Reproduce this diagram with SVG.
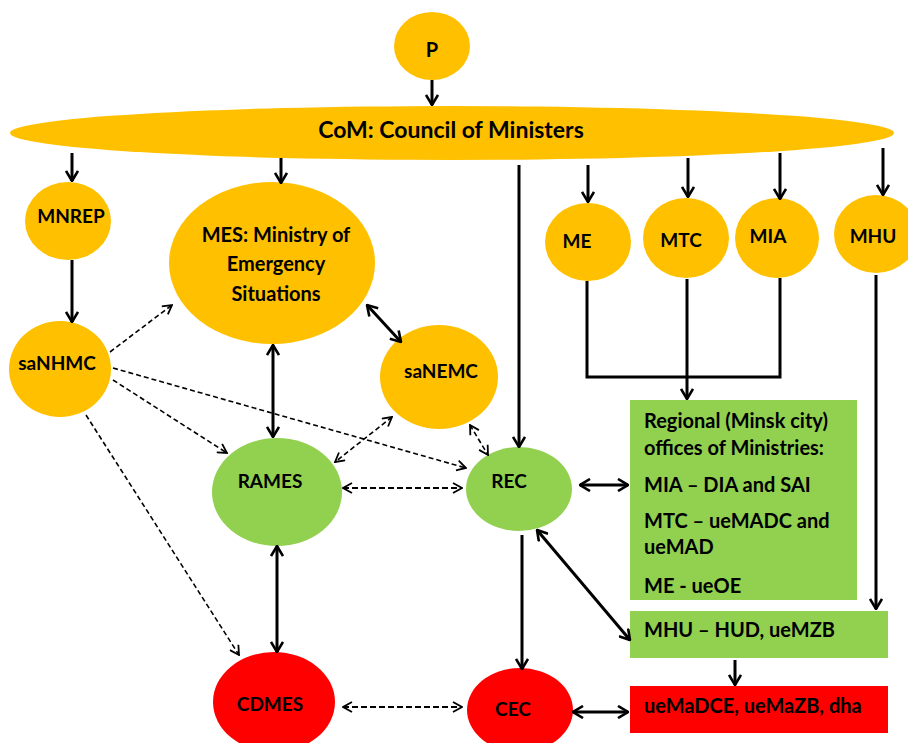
<svg xmlns="http://www.w3.org/2000/svg" width="908" height="743" viewBox="0 0 908 743">
<style>
.or{fill:#FFC000}
.gr{fill:#92D050}
.rd{fill:#FF0000}
text{font-family:Lato,"Liberation Sans",sans-serif;font-weight:bold;font-size:19px;fill:#000}
.c{text-anchor:middle}
.big{font-size:23px}
.m{font-size:20px}
.s{fill:none;stroke:#000;stroke-width:3}
.d{fill:none;stroke:#000;stroke-width:1.6;stroke-dasharray:5 3}
.d2{fill:none;stroke:#000;stroke-width:2;stroke-dasharray:6 3}
</style>
<defs>
<marker id="a" viewBox="0 0 12 14" refX="11" refY="7" markerWidth="12" markerHeight="14" markerUnits="userSpaceOnUse" orient="auto-start-reverse">
<path d="M1,1 L11,7 L1,13" fill="none" stroke="#000" stroke-width="2.6" stroke-dasharray="none"/>
</marker>
<marker id="b" viewBox="0 0 11 12" refX="10" refY="6" markerWidth="11" markerHeight="12" markerUnits="userSpaceOnUse" orient="auto-start-reverse">
<path d="M1,1 L10,6 L1,11" fill="none" stroke="#000" stroke-width="1.8" stroke-dasharray="none"/>
</marker>
</defs>
<rect width="908" height="743" fill="#fff"/>

<g id="nodes">
<g id="P"><ellipse class="or" cx="432" cy="46" rx="38" ry="34"/><text class="c m" x="432" y="57">P</text></g>
<g id="CoM"><ellipse class="or" cx="452" cy="133" rx="442" ry="27"/><text class="c big" x="451" y="138">CoM: Council of Ministers</text></g>
<g id="MNREP"><ellipse class="or" cx="68" cy="221" rx="43" ry="39"/><text class="c" x="71" y="223">MNREP</text></g>
<g id="MES"><ellipse class="or" cx="272" cy="263" rx="103" ry="81"/><text class="c m" x="276" y="242">MES: Ministry of</text><text class="c m" x="276" y="271">Emergency</text><text class="c m" x="276" y="301">Situations</text></g>
<g id="ME"><ellipse class="or" cx="588" cy="242" rx="43" ry="39"/><text class="c" x="577" y="248">ME</text></g>
<g id="MTC"><ellipse class="or" cx="686" cy="238" rx="43" ry="40"/><text class="c" x="681" y="247">MTC</text></g>
<g id="MIA"><ellipse class="or" cx="777" cy="238" rx="42" ry="40"/><text class="c" x="768" y="243">MIA</text></g>
<g id="MHU"><ellipse class="or" cx="876" cy="234" rx="42" ry="39"/><text class="c" x="873" y="243">MHU</text></g>
<g id="saNHMC"><ellipse class="or" cx="60" cy="369" rx="51" ry="48"/><text class="c" x="57" y="370">saNHMC</text></g>
<g id="saNEMC"><ellipse class="or" cx="439" cy="377" rx="59" ry="52"/><text class="c" x="441" y="378">saNEMC</text></g>
<g id="RAMES"><ellipse class="gr" cx="277" cy="492" rx="65" ry="54"/><text class="c" x="270" y="488">RAMES</text></g>
<g id="REC"><ellipse class="gr" cx="519" cy="489" rx="53" ry="42"/><text class="c" x="509" y="488">REC</text></g>
<g id="CDMES"><ellipse class="rd" cx="274" cy="702" rx="61" ry="50"/><text class="c" x="270" y="711">CDMES</text></g>
<g id="CEC"><ellipse class="rd" cx="520" cy="710" rx="53" ry="42"/><text class="c" x="513" y="716">CEC</text></g>
<g id="Regional"><rect class="gr" x="630" y="400" width="227" height="200"/>
<text class="m" x="644" y="428">Regional (Minsk city)</text>
<text class="m" x="644" y="455">offices of Ministries:</text>
<text class="m" x="644" y="492">MIA – DIA and SAI</text>
<text class="m" x="644" y="528">MTC – ueMADC and</text>
<text class="m" x="644" y="554">ueMAD</text>
<text class="m" x="644" y="593">ME - ueOE</text></g>
<g id="MHUbox"><rect class="gr" x="630" y="611" width="258" height="47"/><text class="m" x="644" y="637">MHU – HUD, ueMZB</text></g>
<g id="RedBox"><rect class="rd" x="630" y="686" width="258" height="47"/><text class="m" x="644" y="713">ueMaDCE, ueMaZB, dha</text></g>
</g>

<g id="connectors">
<path class="s" d="M432,80 V105" marker-end="url(#a)"/>
<path class="s" d="M72,153 V181" marker-end="url(#a)"/>
<path class="s" d="M281,158 V183" marker-end="url(#a)"/>
<path class="s" d="M519,165 V447" marker-end="url(#a)"/>
<path class="s" d="M588,165 V202" marker-end="url(#a)"/>
<path class="s" d="M688,158 V197" marker-end="url(#a)"/>
<path class="s" d="M780,153 V199" marker-end="url(#a)"/>
<path class="s" d="M883,148 V195" marker-end="url(#a)"/>
<path class="s" d="M72,260 V322" marker-end="url(#a)"/>
<path class="s" d="M587,281 V377 H780 V278"/>
<path class="s" d="M687,279 V399" marker-end="url(#a)"/>
<path class="s" d="M876,275 V609" marker-end="url(#a)"/>
<path class="s" d="M367,305 L401,342" marker-start="url(#a)" marker-end="url(#a)"/>
<path class="s" d="M273,345 V437" marker-start="url(#a)" marker-end="url(#a)"/>
<path class="s" d="M277,546 V652" marker-start="url(#a)" marker-end="url(#a)"/>
<path class="s" d="M580,485 H628" marker-start="url(#a)" marker-end="url(#a)"/>
<path class="s" d="M537,530 L630,640" marker-start="url(#a)" marker-end="url(#a)"/>
<path class="s" d="M522,535 V669" marker-end="url(#a)"/>
<path class="s" d="M573,712 H628" marker-start="url(#a)" marker-end="url(#a)"/>
<path class="s" d="M735,660 V685" marker-end="url(#a)"/>
<path class="d" d="M110,352 L172,305" marker-end="url(#b)"/>
<path class="d" d="M113,368 L466,468" marker-end="url(#b)"/>
<path class="d" d="M113,380 L227,453" marker-end="url(#b)"/>
<path class="d" d="M86,415 L239,655" marker-end="url(#b)"/>
<path class="d" d="M392,417 L335,462" marker-start="url(#b)" marker-end="url(#b)"/>
<path class="d" d="M470,425 L488,455" marker-start="url(#b)" marker-end="url(#b)"/>
<path class="d2" d="M343,488 H462" marker-start="url(#b)" marker-end="url(#b)"/>
<path class="d2" d="M343,707 H462" marker-start="url(#b)" marker-end="url(#b)"/>
</g>
</svg>
